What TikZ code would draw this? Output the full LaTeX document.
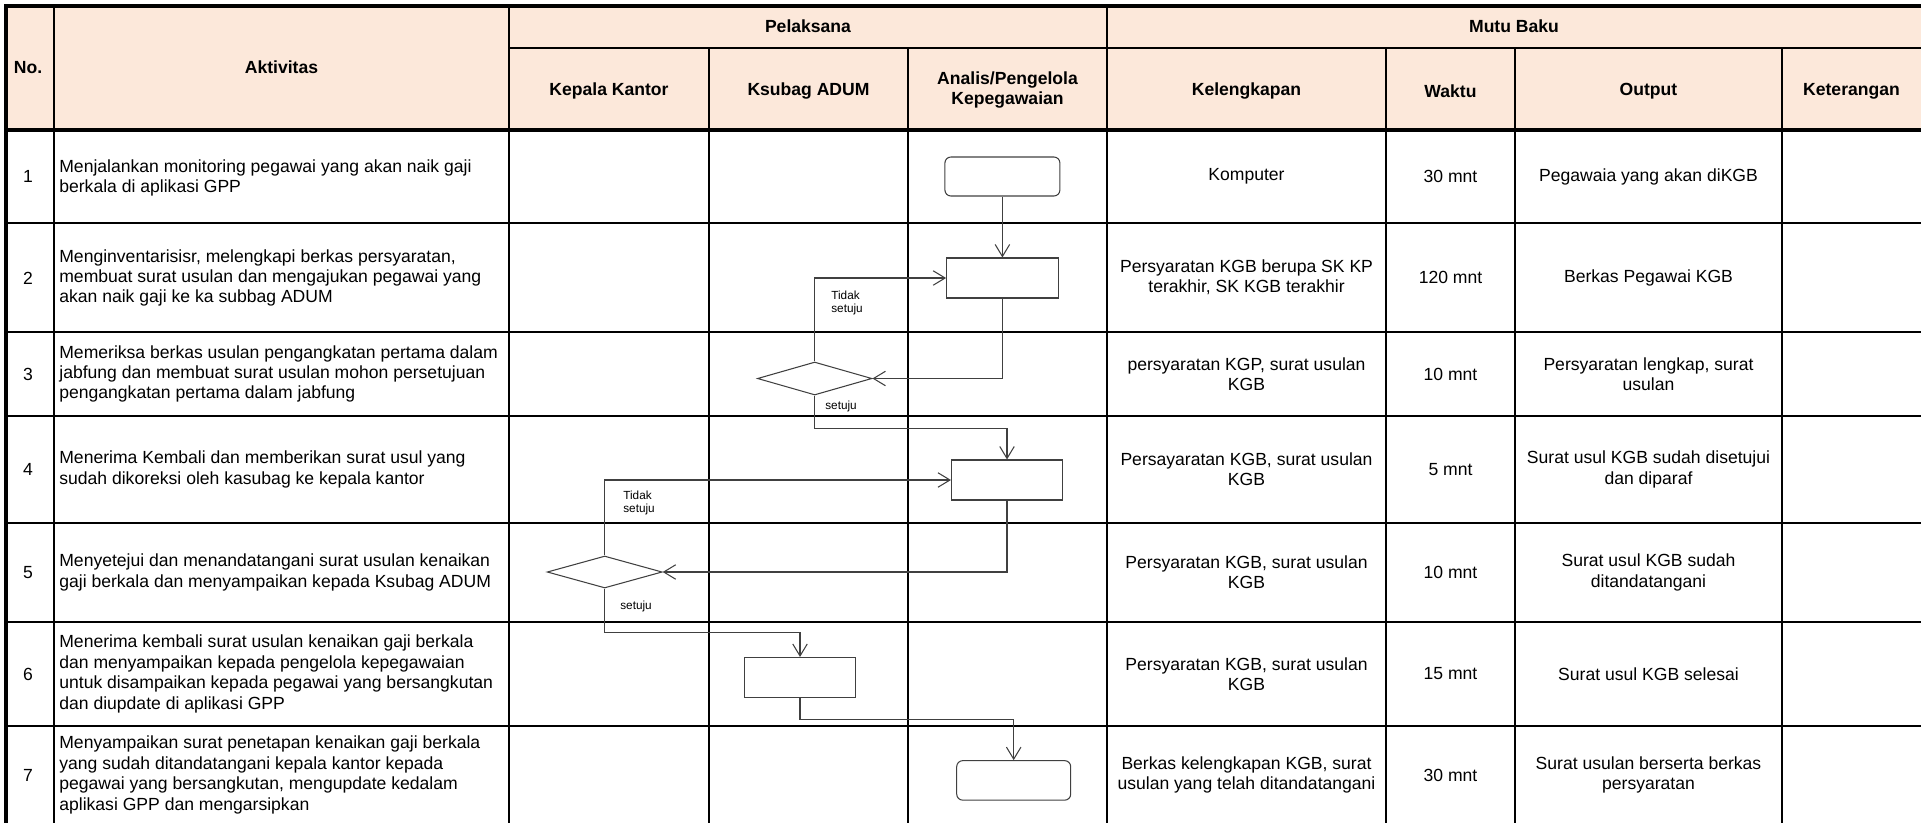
\documentclass[tikz,border=0pt]{standalone}
\usepackage{fontspec}
\setmainfont{Liberation Sans}
\usetikzlibrary{arrows.meta, positioning, shapes.geometric}
\definecolor{headfill}{RGB}{252,232,218}
\definecolor{flowline}{RGB}{64,64,64}

\begin{document}
\begin{tikzpicture}[
    x=0.02cm, y=-0.02cm,
    cell/.style={inner sep=0pt, align=center, font=\fontsize{10}{11.6}\selectfont},
    act/.style={cell, align=left, anchor=west},
    head/.style={cell, font=\bfseries\fontsize{10}{11.6}\selectfont},
    proses/.style={rectangle, draw=flowline, line width=0.6pt, minimum width=2.23cm, minimum height=0.8cm, inner sep=0pt},
    ujung/.style={proses, rounded corners=0.12cm, minimum width=2.3cm, minimum height=0.78cm},
    putusan/.style={diamond, draw=flowline, line width=0.6pt, minimum width=2.3cm, minimum height=0.66cm, inner sep=0pt},
    flow/.style={draw=flowline, line width=0.6pt, -{Straight Barb[length=2.4mm,width=2.9mm]}},
    lbl/.style={inner sep=0pt, anchor=west, align=left, font=\fontsize{6.7}{7.9}\selectfont},
    tebal/.style={line width=2.4pt},
    garis/.style={line width=1.5pt}
]
\useasboundingbox (0,0) rectangle (1921,822);
\clip (0,0) rectangle (1921,822);

% kepala tabel
\fill[headfill] (6,6) rectangle (1925,130);
\node[head] (hno) at (28,68) {No.};
\node[head] (hakt) at (281.5,67.5) {Aktivitas};
\node[head] (hpel) at (808,26) {Pelaksana};
\node[head] (hmutu) at (1514,26) {Mutu Baku};
\node[head] (hkk) at (609,91) {Kepala Kantor};
\node[head] (hks) at (808.5,91) {Ksubag ADUM};
\node[head] (han) at (1007.5,90) {Analis/Pengelola\\Kepegawaian};
\node[head] (hkel) at (1246.5,91) {Kelengkapan};
\node[head] (hwkt) at (1450.5,91) {Waktu};
\node[head] (hout) at (1648.5,91) {Output};
\node[head] (hket) at (1851.5,91) {Keterangan};

% baris 1
\node[cell] (n1) at (28,176.5) {1};
\node[act] (a1) at (59,178) {Menjalankan monitoring pegawai yang akan naik gaji\\berkala di aplikasi GPP};
\node[cell] (k1) at (1246.5,176.5) {Komputer};
\node[cell] (w1) at (1450.5,176.5) {30 mnt};
\node[cell] (o1) at (1648.5,176.5) {Pegawaia yang akan diKGB};

% baris 2
\node[cell] (n2) at (28,278) {2};
\node[act] (a2) at (59,278) {Menginventarisisr, melengkapi berkas persyaratan,\\membuat surat usulan dan mengajukan pegawai yang\\akan naik gaji ke ka subbag ADUM};
\node[cell] (k2) at (1246.5,277.5) {Persyaratan KGB berupa SK KP\\terakhir, SK KGB terakhir};
\node[cell] (w2) at (1450.5,277.5) {120 mnt};
\node[cell] (o2) at (1648.5,277.5) {Berkas Pegawai KGB};

% baris 3
\node[cell] (n3) at (28,374) {3};
\node[act] (a3) at (59,374) {Memeriksa berkas usulan pengangkatan pertama dalam\\jabfung dan membuat surat usulan mohon persetujuan\\pengangkatan pertama dalam jabfung};
\node[cell] (k3) at (1246.5,374) {persyaratan KGP, surat usulan\\KGB};
\node[cell] (w3) at (1450.5,374) {10 mnt};
\node[cell] (o3) at (1648.5,374) {Persyaratan lengkap, surat\\usulan};

% baris 4
\node[cell] (n4) at (28,469.5) {4};
\node[act] (a4) at (59,469.5) {Menerima Kembali dan memberikan surat usul yang\\sudah dikoreksi oleh kasubag ke kepala kantor};
\node[cell] (k4) at (1246.5,469.5) {Persayaratan KGB, surat usulan\\KGB};
\node[cell] (w4) at (1450.5,469.5) {5 mnt};
\node[cell] (o4) at (1648.5,469.5) {Surat usul KGB sudah disetujui\\dan diparaf};

% baris 5
\node[cell] (n5) at (28,572.5) {5};
\node[act] (a5) at (59,572.5) {Menyetejui dan menandatangani surat usulan kenaikan\\gaji berkala dan menyampaikan kepada Ksubag ADUM};
\node[cell] (k5) at (1246.5,572.5) {Persyaratan KGB, surat usulan\\KGB};
\node[cell] (w5) at (1450.5,572.5) {10 mnt};
\node[cell] (o5) at (1648.5,572.5) {Surat usul KGB sudah\\ditandatangani};

% baris 6
\node[cell] (n6) at (28,674) {6};
\node[act] (a6) at (59,674) {Menerima kembali surat usulan kenaikan gaji berkala\\dan menyampaikan kepada pengelola kepegawaian\\untuk disampaikan kepada pegawai yang bersangkutan\\dan diupdate di aplikasi GPP};
\node[cell] (k6) at (1246.5,674) {Persyaratan KGB, surat usulan\\KGB};
\node[cell] (w6) at (1450.5,674) {15 mnt};
\node[cell] (o6) at (1648.5,674) {Surat usul KGB selesai};

% baris 7
\node[cell] (n7) at (28,775) {7};
\node[act] (a7) at (59,775) {Menyampaikan surat penetapan kenaikan gaji berkala\\yang sudah ditandatangani kepala kantor kepada\\pegawai yang bersangkutan, mengupdate kedalam\\aplikasi GPP dan mengarsipkan};
\node[cell] (k7) at (1246.5,775) {Berkas kelengkapan KGB, surat\\usulan yang telah ditandatangani};
\node[cell] (w7) at (1450.5,775) {30 mnt};
\node[cell] (o7) at (1648.5,775) {Surat usulan berserta berkas\\persyaratan};

% garis tabel
\draw[tebal] (4,6) -- (1925,6);
\draw[tebal] (6,4) -- (6,830);
\draw[tebal] (6,130) -- (1925,130);
\draw[garis] (509,48) -- (1925,48);
\foreach \y in {223,332,416,523,622,726}
    \draw[garis] (6,\y) -- (1925,\y);
\foreach \x in {54,509,1107}
    \draw[garis] (\x,6) -- (\x,830);
\foreach \x in {709,908,1386,1515,1782}
    \draw[garis] (\x,48) -- (\x,830);

% bagan alir
\node[ujung] (mulai) at (1002.4,176.5) {};
\node[proses] (siap) at (1002.4,278) {};
\node[putusan, minimum width=2.29cm] (cek) at (814.7,378.5) {};
\node[proses, minimum width=2.22cm] (koreksi) at (1007,480) {};
\node[putusan, minimum height=0.64cm] (ttd) at (604.7,572) {};
\node[proses] (kirim) at (800,677.5) {};
\node[ujung, minimum width=2.28cm, minimum height=0.79cm] (selesai) at (1013.7,780.4) {};

% panah
\draw[flow] (mulai) -- (siap);
\draw[flow] (siap.south) |- (cek.east);
\draw[flow] (cek.north) |- (siap.west);
\draw[flow] (cek.south) -- ++(0,33) -| (koreksi.north);
\draw[flow] (koreksi.south) |- (ttd.east);
\draw[flow] (ttd.north) |- (koreksi.west);
\draw[flow] (ttd.south) -- ++(0,43.5) -| (kirim.north);
\draw[flow] (kirim.south) -- ++(0,21.7) -| (selesai.north);

% label keputusan
\node[lbl] (tdk1) at (831,303) {Tidak\\setuju};
\node[lbl] (ya1) at (825,406) {setuju};
\node[lbl] (tdk2) at (623,503) {Tidak\\setuju};
\node[lbl] (ya2) at (620,606) {setuju};
\end{tikzpicture}
\end{document}
